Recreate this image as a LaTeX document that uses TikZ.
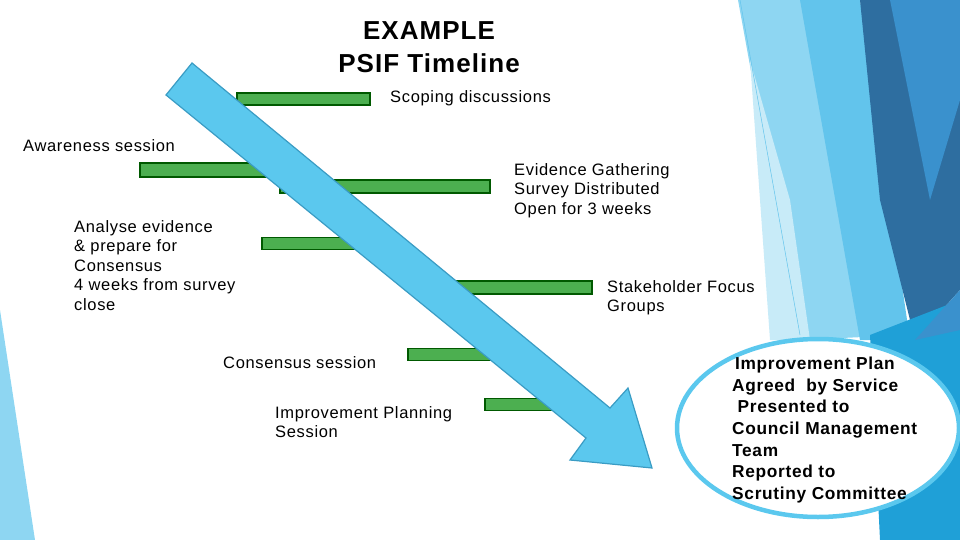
\documentclass[tikz,border=0pt]{standalone}
\usepackage{fontspec}
\setmainfont{Liberation Sans}[LetterSpace=4]
\usetikzlibrary{shapes.geometric}
\begin{document}
\begin{tikzpicture}[x=1pt,y=-1pt,
  bar/.style={fill=barg, draw=green!35!black, line width=1.5pt},
  lbl/.style={anchor=north west, align=left, font=\fontsize{16.5}{19}\selectfont, inner sep=0pt},
  lbl2/.style={lbl, font=\fontsize{16.5}{19.5}\selectfont}]
\definecolor{barg}{HTML}{4CAF50}
\definecolor{arrf}{HTML}{5BC8EE}
\definecolor{arrd}{HTML}{3A9CC4}
\useasboundingbox (0,0) rectangle (960,540);
% background
\fill[color={rgb,255:red,142;green,214;blue,242}] (738,0) -- (860,0) -- (905,335) -- (800,340) -- cycle;
\fill[color={rgb,255:red,200;green,235;blue,248}] (750,60) -- (790,200) -- (810,340) -- (770,340) -- cycle;
\fill[color={rgb,255:red,98;green,196;blue,236}] (800,0) -- (860,0) -- (910,340) -- (860,340) -- cycle;
\fill[color={rgb,255:red,46;green,110;blue,160}] (860,0) -- (960,0) -- (960,290) -- (915,340) -- (880,200) -- cycle;
\fill[color={rgb,255:red,58;green,145;blue,205}] (890,0) -- (960,0) -- (960,100) -- (930,200) -- cycle;
\fill[color={rgb,255:red,31;green,160;blue,215}] (870,335) -- (960,300) -- (960,540) -- (880,540) -- cycle;
\fill[color={rgb,255:red,58;green,145;blue,205}] (915,340) -- (960,290) -- (960,330) -- cycle;
\draw[color={rgb,255:red,98;green,196;blue,236}, line width=0.5pt] (740,0) -- (800,335);
\fill[color={rgb,255:red,142;green,214;blue,242}] (0,310) -- (0,540) -- (35,540) -- cycle;
% title
\node[font=\bfseries\fontsize{26}{33}\selectfont, align=center] (title) at (429,47) {EXAMPLE\\PSIF Timeline};
% bars
\node[bar, minimum width=133pt, minimum height=12pt, inner sep=0pt] (b1) at (303.5,99) {};
\node[bar, minimum width=150pt, minimum height=14pt, inner sep=0pt] (b2) at (215,170) {};
\node[bar, minimum width=210pt, minimum height=13pt, inner sep=0pt] (b3) at (385,186.5) {};
\node[bar, minimum width=103pt, minimum height=12pt, inner sep=0pt] (b4) at (313.5,243.5) {};
\node[bar, minimum width=150pt, minimum height=13pt, inner sep=0pt] (b5) at (517,287.5) {};
\node[bar, minimum width=102pt, minimum height=12pt, inner sep=0pt] (b6) at (459,354.5) {};
\node[bar, minimum width=95pt, minimum height=12pt, inner sep=0pt] (b7) at (532.5,404.5) {};
% arrow
\draw[fill=arrf, draw=arrd, line width=1.2pt, line join=miter]
 (166,95) -- (586,438) -- (570,460) -- (652,468) -- (628,388) -- (610,408) -- (192,63) -- cycle;
% labels
\node[lbl] (l1) at (390,90) {Scoping discussions};
\node[lbl] (l2) at (23,139) {Awareness session};
\node[lbl2] (l3) at (514,163) {Evidence Gathering\\Survey Distributed\\Open for 3 weeks};
\node[lbl2] (l4) at (74,220) {Analyse evidence\\\& prepare for\\Consensus\\4 weeks from survey\\close};
\node[lbl2] (l5) at (607,280) {Stakeholder Focus\\Groups};
\node[lbl] (l6) at (223,356) {Consensus session};
\node[lbl2] (l7) at (275,406) {Improvement Planning\\Session};
% ellipse
\node[ellipse, draw=arrf, line width=4.5pt, fill=white, minimum width=282pt, minimum height=178pt] (ell) at (818,428) {};
\node[lbl, font=\bfseries\fontsize{17.3}{21.6}\selectfont] (l8) at (732,357) {\,Improvement Plan\\Agreed\ \ by Service\\\ Presented to\\Council Management\\Team\\Reported to\\Scrutiny Committee};
\end{tikzpicture}
\end{document}
